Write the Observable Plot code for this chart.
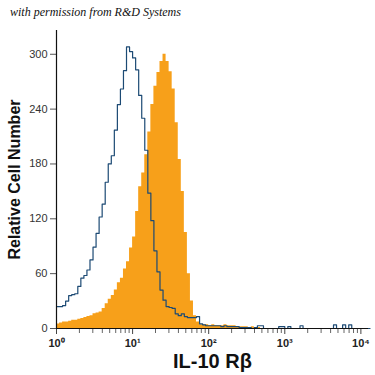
<!DOCTYPE html>
<html><head><meta charset="utf-8">
<script src="https://cdn.jsdelivr.net/npm/d3@7"></script>
<script src="https://cdn.jsdelivr.net/npm/@observablehq/plot@0.6"></script>
<style>
body{margin:0;background:#fff;}
#wrap{position:relative;width:375px;height:375px;overflow:hidden;}
#credit{position:absolute;left:10px;top:5px;font:italic 12px "Liberation Serif","DejaVu Serif",serif;color:#111;white-space:nowrap;}
#chart{position:absolute;left:0;top:0;}
</style></head><body>
<div id="wrap"><div id="chart"></div><div id="credit">with permission from R&amp;D Systems</div></div>
<script>
// histogram bins: log10 start and width (decades)
const binStartLog = 0;
const binWidthLog = 0.04;
// isotype control (outline)
const isotypeCounts = [
 24,24,25,30,36,37,38,46,55,58,
 64,75,89,104,122,136,160,180,189,217,
 245,262,282,308,303,296,283,255,230,195,
 148,118,85,62,42,31,24,23,22,16,
 14,16,13,12,12,12,13,5,4,3,
 3,3,3,3,2,3,2,2,2,2,
 1,1,1,1,0,1,3,3,0,0,
 0,0,0,2,2,0,2,0,0,0,
 3,0,0,0,0,0,0,0,0,0,
 0,4,0,0,4,0,4,0,0,0,
 0,0,0];
// IL-10 Rbeta stained (filled)
const stainedCounts = [
 5,6,7,7,8,9,9,10,11,12,
 13,14,16,17,18,22,27,32,36,42,
 50,55,65,73,88,100,128,155,170,190,
 215,245,265,280,292,300,292,281,262,225,
 185,150,105,60,30,14,7,4,4,4,
 3,4,3,3,3,4,3,3,3,2,
 2,2,2,1,2,1,1,0,0,0,
 0,0,0,0,0,0,0,0,0,0,
 0,0,0,0,0,0,0,0,0,0,
 0,0,0,0,0,0,0,0,0,0,
 0,0,0];
const yTicks = [0,60,120,180,240,300];
const xMajorTicks = [1,10,100,1000,10000];
const xMinorTicks = [2,3,4,5,6,7,8,9,20,30,40,50,60,70,80,90,200,300,400,500,600,700,800,900,2000,3000,4000,5000,6000,7000,8000,9000];
const supers = ["⁰","¹","²","³","⁴"];
const xTitle = "IL-10 Rβ";
const yTitle = "Relative Cell Number";

const edge = i => 10 ** (binStartLog + i * binWidthLog);
function steps(counts){
  const pts = [];
  counts.forEach((c,i)=>{ pts.push({x: edge(i), y: c}); pts.push({x: edge(i+1), y: c}); });
  return pts;
}
const stainedPts = steps(stainedCounts);
const isoPts = steps(isotypeCounts);

const orange = "#f7a01a";
const navy = "#1c4a74";
const font = "'Liberation Sans', Arial, sans-serif";

const chart = Plot.plot({
  width: 375, height: 375,
  marginLeft: 56, marginRight: 7, marginTop: 30, marginBottom: 47,
  style: {fontFamily: font, fontSize: "11px", color: "#222", background: "transparent"},
  x: {type: "log", domain: [1, 10 ** 4.1], axis: null},
  y: {domain: [0, 326], axis: null},
  marks: [
    Plot.areaY(stainedPts, {x: "x", y1: 0, y2: "y", fill: orange, curve: "linear"}),
    Plot.line(isoPts, {x: "x", y: "y", stroke: navy, strokeWidth: 1.2, curve: "linear"}),
    Plot.axisX(xMinorTicks, {label: null, tickSize: 5, tickFormat: () => "", stroke: "#666"}),
    Plot.axisX(xMajorTicks, {label: null, tickSize: 6, tickPadding: 5, stroke: "#444", fontWeight: "bold", fill: "#222",
      tickFormat: d => "10" + supers[Math.round(Math.log10(d))]}),
    Plot.axisY(yTicks, {label: null, tickSize: 6, tickPadding: 3, stroke: "#555", fill: "#333"}),
    Plot.ruleY([0], {stroke: "#111", strokeWidth: 1.2}),
    Plot.ruleX([1], {stroke: "#111", strokeWidth: 1.2}),
    Plot.text([xTitle], {frameAnchor: "bottom", lineAnchor: "middle", dy: 33, fontSize: 20, fontWeight: "bold", fill: "#111"}),
    Plot.text([yTitle], {frameAnchor: "left", textAnchor: "middle", dx: -42, rotate: -90, fontSize: 16, fontWeight: "bold", fill: "#111"})
  ]
});
document.getElementById("chart").appendChild(chart);
</script>
</body></html>
